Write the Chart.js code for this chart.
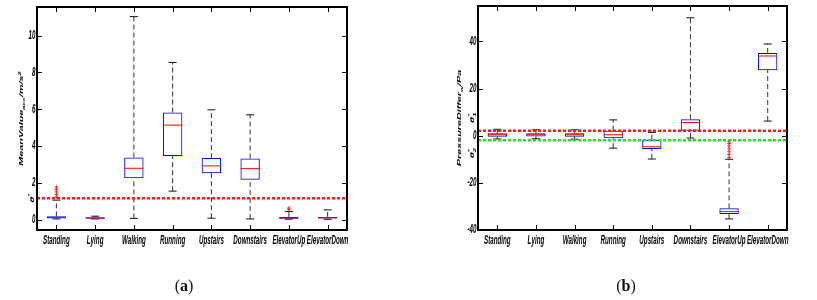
<!DOCTYPE html>
<html>
<head>
<meta charset="utf-8">
<script src="https://cdn.jsdelivr.net/npm/chart.js@4.4.1/dist/chart.umd.min.js"></script>
<style>
  html, body { margin: 0; padding: 0; background: #fff; }
  #wrap { position: relative; width: 817px; height: 300px; overflow: hidden; }
  .panel { position: absolute; top: 0; height: 300px; }
  .caption { position: absolute; top: 276px; line-height: 19px; font-size: 16px; font-family: "Liberation Serif", serif; color: #111; transform: translateX(-50%); }
</style>
</head>
<body>
<div id="wrap">
  <div class="panel" style="left:0;width:410px"><canvas id="chartA" width="410" height="300"></canvas></div>
  <div class="panel" style="left:410px;width:407px"><canvas id="chartB" width="407" height="300"></canvas></div>
  <div class="caption" style="left:184px">(<b>a</b>)</div>
  <div class="caption" style="left:626px">(<b>b</b>)</div>
</div>
<script>
const cats = ['Standing', 'Lying', 'Walking', 'Running', 'Upstairs', 'Downstairs', 'ElevatorUp', 'ElevatorDown'];

// (a) mean value of acceleration, m/s^2
const accMin = [0.05, 0.05, 0.08, 1.56, 0.09, 0.05, 0.04, 0.03];
const accQ1  = [0.07, 0.06, 2.26, 3.47, 2.53, 2.17, 0.06, 0.07];
const accMed = [0.13, 0.10, 2.80, 5.14, 2.93, 2.78, 0.10, 0.11];
const accQ3  = [0.19, 0.14, 3.38, 5.82, 3.35, 3.33, 0.15, 0.16];
const accMax = [1.07, 0.20, 11.03, 8.54, 5.97, 5.70, 0.45, 0.54];
const accOutliers = [[1.24, 1.38, 1.52, 1.66, 1.78], [], [], [], [], [], [0.55, 0.64], []];
const accTicks = [0, 2, 4, 6, 8, 10];
const accThreshold = 1.17;

// (b) pressure difference, Pa
const presMin = [-1.4, -1.3, -1.5, -5.3, -9.9, -1.0, -35.3, 6.2];
const presQ1  = [-0.4, -0.3, -0.4, -1.1, -5.6, 2.1, -33.2, 27.8];
const presMed = [0.4, 0.4, 0.4, 0.4, -4.7, 5.6, -32.2, 33.8];
const presQ3  = [1.0, 1.0, 1.0, 2.1, -1.7, 7.0, -30.8, 35.1];
const presMax = [2.7, 2.5, 2.5, 6.7, 1.4, 50.0, -10.0, 38.9];
const presOutliers = [[], [], [], [], [], [], [-9.2, -8.0, -6.8, -5.6, -4.4, -3.3, -2.4], []];
const presTicks = [-40, -20, 0, 20, 40];
const presThresholdHigh = 2.1;
const presThresholdLow = -1.9;

const LABEL_FONT = '"Liberation Sans", Arial, sans-serif';
const SQUEEZE = 0.52;

function fontOf(size) {
  return `italic bold ${size}px ${LABEL_FONT}`;
}

function squeezeText(ctx, text, x, y, align, baseline) {
  ctx.save();
  ctx.translate(x, y);
  ctx.scale(SQUEEZE, 1);
  ctx.textAlign = align;
  ctx.textBaseline = baseline;
  ctx.fillText(text, 0, 0);
  ctx.restore();
}

// rotated text with sub/superscripts, squeezed across like the rest of the labels
function rotatedRich(ctx, segs, cx, cy, size) {
  const small = size * 0.7;
  ctx.save();
  ctx.translate(cx, cy);
  ctx.rotate(-Math.PI / 2);
  ctx.scale(1, SQUEEZE);
  let total = 0, last = 0;
  const laid = segs.map(s => {
    ctx.font = fontOf(s.sub || s.sup ? small : size);
    const w = ctx.measureText(s.t).width;
    let start;
    if (s.stack) {
      start = total - last;
      total = start + Math.max(last, w);
    } else {
      start = total;
      total += w;
    }
    last = w;
    return { ...s, start };
  });
  const x0 = -total / 2;
  const base = size * 0.35;
  ctx.fillStyle = '#000';
  ctx.textAlign = 'left';
  ctx.textBaseline = 'alphabetic';
  laid.forEach(s => {
    ctx.font = fontOf(s.sub || s.sup ? small : size);
    let yy = base;
    if (s.sub) yy += size * 0.3;
    if (s.sup) yy -= size * 0.45;
    ctx.fillText(s.t, x0 + s.start, yy);
  });
  ctx.restore();
}

const matlabFrame = {
  id: 'matlabFrame',
  afterDraw(chart, args, opts) {
    const { ctx, chartArea: a } = chart;
    const x = chart.scales.x, y = chart.scales.y;
    ctx.save();

    // inward tick marks on all four sides
    ctx.strokeStyle = '#000';
    ctx.lineWidth = 1;
    ctx.beginPath();
    x.ticks.forEach(t => {
      const px = Math.round(x.getPixelForValue(t.value)) + 0.5;
      ctx.moveTo(px, a.top); ctx.lineTo(px, a.top + 5);
      ctx.moveTo(px, a.bottom); ctx.lineTo(px, a.bottom - 5);
    });
    y.ticks.forEach(t => {
      const py = Math.round(y.getPixelForValue(t.value)) + 0.5;
      ctx.moveTo(a.left, py); ctx.lineTo(a.left + 5, py);
      ctx.moveTo(a.right, py); ctx.lineTo(a.right - 5, py);
    });
    ctx.stroke();

    ctx.lineWidth = 2;
    ctx.strokeRect(a.left, a.top, a.right - a.left, a.bottom - a.top);

    // tick labels
    ctx.fillStyle = '#000';
    ctx.font = fontOf(12);
    x.ticks.forEach(t => {
      squeezeText(ctx, t.label, x.getPixelForValue(t.value), a.bottom + 5, 'center', 'top');
    });
    y.ticks.forEach(t => {
      squeezeText(ctx, t.label, a.left - 1.5, y.getPixelForValue(t.value), 'right', 'middle');
    });

    // axis title
    rotatedRich(ctx, opts.title, a.left + opts.titleDx, (a.top + a.bottom) / 2, 10.8);

    // threshold names beside the axis
    (opts.marks || []).forEach(m => {
      rotatedRich(ctx, m.segs, a.left + m.dx, y.getPixelForValue(m.value) + m.dy, 11);
    });
    ctx.restore();
  }
};

function boxDatasets(min, q1, med, q3, max, outliers) {
  const whiskers = [];
  cats.forEach((c, i) => {
    whiskers.push({ x: i, y: q3[i] }, { x: i, y: max[i] }, { x: i, y: null },
                  { x: i, y: min[i] }, { x: i, y: q1[i] }, { x: i, y: null });
  });
  const caps = [];
  cats.forEach((c, i) => caps.push({ x: i, y: max[i] }, { x: i, y: min[i] }));
  const outs = [];
  outliers.forEach((list, i) => list.forEach(v => outs.push({ x: i, y: v })));

  return [
    {
      type: 'line', data: whiskers, order: 6,
      borderColor: '#333', borderWidth: 1, borderDash: [5, 3],
      pointRadius: 0, spanGaps: false
    },
    {
      type: 'scatter', data: caps, order: 5,
      pointStyle: 'line', pointRadius: 4, borderColor: '#111', borderWidth: 1
    },
    {
      type: 'bar', data: cats.map((c, i) => ({ x: i, y: [q1[i], q3[i]] })), order: 4,
      backgroundColor: 'rgba(255,255,255,0)', borderColor: '#0000ff', borderWidth: 1,
      borderSkipped: false, barPercentage: 0.5, categoryPercentage: 1
    },
    {
      type: 'scatter', data: cats.map((c, i) => ({ x: i, y: med[i] })), order: 3,
      pointStyle: 'line', pointRadius: 9.5, borderColor: '#ff0000', borderWidth: 1
    },
    {
      type: 'scatter', data: outs, order: 2,
      pointStyle: 'cross', pointRadius: 1.8, borderColor: '#ff2020', borderWidth: 1
    }
  ];
}

function thresholdLine(value, color) {
  return {
    type: 'line', order: 1,
    data: [{ x: -0.5, y: value }, { x: cats.length - 0.5, y: value }],
    borderColor: color, borderWidth: 2.5, borderDash: [3, 2], pointRadius: 0
  };
}

function makeChart(id, datasets, yMin, yMax, yTicks, padding, frameOpts) {
  return new Chart(document.getElementById(id), {
    type: 'bar',
    data: { datasets },
    options: {
      responsive: false,
      animation: false,
      events: [],
      layout: { padding, autoPadding: false },
      plugins: {
        legend: { display: false },
        tooltip: { enabled: false },
        matlabFrame: frameOpts
      },
      scales: {
        x: {
          type: 'linear', min: -0.5, max: cats.length - 0.5, offset: false,
          grid: { display: false }, border: { display: false },
          ticks: { display: false, callback: v => cats[v] ?? '' },
          afterBuildTicks: s => { s.ticks = cats.map((c, i) => ({ value: i })); },
          afterFit: s => { s.height = 0; }
        },
        y: {
          type: 'linear', min: yMin, max: yMax, beginAtZero: false,
          grid: { display: false }, border: { display: false },
          ticks: { display: false },
          afterBuildTicks: s => { s.ticks = yTicks.map(v => ({ value: v })); },
          afterFit: s => { s.width = 0; }
        }
      }
    },
    plugins: [matlabFrame]
  });
}

makeChart('chartA',
  [...boxDatasets(accMin, accQ1, accMed, accQ3, accMax, accOutliers), thresholdLine(accThreshold, '#ff1a1a')],
  -0.55, 11.55, accTicks,
  { left: 37, right: 63, top: 7, bottom: 70 },
  {
    title: [{ t: 'MeanValue' }, { t: 'acc', sub: true }, { t: '/m/s' }, { t: '2', sup: true }],
    titleDx: -15.5,
    marks: [{ value: accThreshold, dx: -5, dy: 0, segs: [{ t: 'θ' }, { t: '*', sup: true }] }]
  });

makeChart('chartB',
  [...boxDatasets(presMin, presQ1, presMed, presQ3, presMax, presOutliers),
   thresholdLine(presThresholdHigh, '#ff1a1a'), thresholdLine(presThresholdLow, '#22e022')],
  -40, 55, presTicks,
  { left: 68, right: 30, top: 6, bottom: 70 },
  {
    title: [{ t: 'PressureDiffer' }, { t: 'w', sub: true }, { t: '/Pa' }],
    titleDx: -19,
    marks: [
      { value: presThresholdHigh, dx: -6, dy: -13, segs: [{ t: 'θ' }, { t: '*', sup: true }, { t: '1', sub: true, stack: true }] },
      { value: presThresholdLow, dx: -6, dy: 13, segs: [{ t: 'θ' }, { t: '*', sup: true }, { t: '2', sub: true, stack: true }] }
    ]
  });
</script>
</body>
</html>
